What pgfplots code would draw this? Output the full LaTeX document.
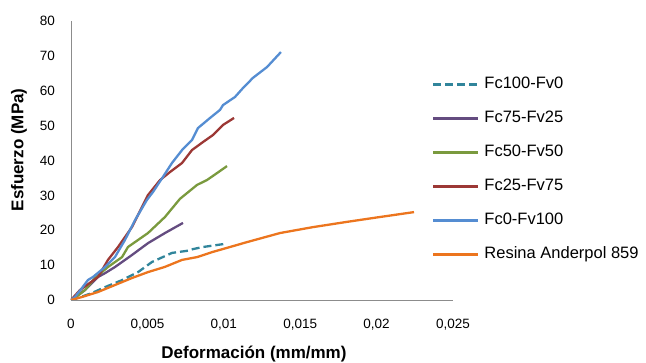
\documentclass[border=0pt]{standalone}
\usepackage{pgfplots}
\pgfplotsset{compat=1.18}
\usepackage{fontspec}
\setmainfont{Liberation Sans}
\definecolor{cteal}{RGB}{49,133,155}
\definecolor{cpurple}{RGB}{100,76,128}
\definecolor{cgreen}{RGB}{122,154,62}
\definecolor{cred}{RGB}{156,56,53}
\definecolor{cblue}{RGB}{85,141,210}
\definecolor{corange}{RGB}{236,117,30}
\definecolor{axisgray}{RGB}{140,140,140}
\begin{document}
\begin{tikzpicture}[x=1pt,y=1pt]
\useasboundingbox (-71,-63) rectangle (575,300);
\begin{axis}[
  at={(0,0)}, anchor=south west,
  scale only axis, width=382pt, height=279pt,
  xmin=0, xmax=0.025, ymin=0, ymax=80,
  axis lines=left,
  axis line style={draw=axisgray, line width=0.8pt, -},
  major tick length=0pt,
  xtick={0,0.005,0.01,0.015,0.02,0.025},
  xticklabels={0,{0,005},{0,01},{0,015},{0,02},{0,025}},
  ytick={0,10,...,80},
  /pgf/number format/assume math mode=true,
  scaled ticks=false,
  xticklabel style={anchor=base, yshift=-29pt, font=\fontsize{13.5}{15}\selectfont},
  yticklabel style={anchor=east, inner sep=0pt, xshift=-16pt, font=\fontsize{13.5}{15}\selectfont},
  xlabel={Deformación (mm/mm)},
  ylabel={Esfuerzo (MPa)},
  xlabel style={at={(axis description cs:0.479,0)}, anchor=base, yshift=-59pt, font=\bfseries\fontsize{17}{20}\selectfont},
  ylabel style={at={(axis description cs:0,0.538)}, anchor=center, yshift=52pt, font=\bfseries\fontsize{17}{20}\selectfont},
  legend cell align=left,
  legend style={draw=none, fill=none, at={(axis description cs:0.945,0.798)}, anchor=north west,
    inner xsep=0pt, inner ysep=0pt, row sep=20pt,
    font=\fontsize{16.5}{19}\selectfont,
    nodes={inner ysep=0pt, inner xsep=5pt, text height=11pt, text depth=3pt}},
  legend image code/.code={\draw[#1] (0pt,0pt) -- (45pt,0pt);},
  every axis plot/.append style={line width=2.3pt, line join=round, no markers},
]
\addplot[cteal, dash pattern=on 8pt off 4pt] coordinates {
(0,0) (0.00026,0.29) (0.00137,2.0) (0.00223,3.7) (0.00334,5.7) (0.00439,8.0) (0.0053,10.9) (0.00661,13.5) (0.00759,14.1) (0.00799,14.6) (0.00864,15.2) (0.01008,16.1)};
\addlegendentry{Fc100-Fv0}
\addplot[cpurple] coordinates {
(0,0) (0.00092,2.87) (0.00177,6.6) (0.00223,7.7) (0.00288,9.46) (0.00399,12.9) (0.00504,16.3) (0.00615,19.2) (0.00733,22.1)};
\addlegendentry{Fc75-Fv25}
\addplot[cgreen] coordinates {
(0,0) (0.00026,0.57) (0.00092,2.87) (0.00157,6.3) (0.00242,9.46) (0.00334,12.3) (0.00373,15.2) (0.00504,19.2) (0.00615,23.8) (0.00713,29.0) (0.00825,33.0) (0.0089,34.4) (0.00956,36.4) (0.01021,38.4)};
\addlegendentry{Fc50-Fv50}
\addplot[cred] coordinates {
(0,0) (0.00059,2.87) (0.00177,6.6) (0.00242,11.5) (0.00308,15.2) (0.00399,20.9) (0.00465,26.7) (0.00504,30.1) (0.00583,34.4) (0.00648,36.7) (0.00727,39.3) (0.00792,43.0) (0.00864,45.3) (0.00929,47.3) (0.00995,50.2) (0.01067,52.2)};
\addlegendentry{Fc25-Fv75}
\addplot[cblue] coordinates {
(0,0) (0.00026,0.86) (0.00072,3.44) (0.00111,5.73) (0.00144,6.6) (0.00223,9.46) (0.00288,12.33) (0.00353,17.2) (0.00419,22.9) (0.00497,28.7) (0.00537,31.0) (0.00602,35.3) (0.00661,39.3) (0.00727,43.0) (0.00792,45.9) (0.00831,49.3) (0.0091,52.2) (0.00975,54.5) (0.00995,55.9) (0.01073,58.2) (0.01126,60.8) (0.01191,63.7) (0.01283,66.8) (0.01374,71.1)};
\addlegendentry{Fc0-Fv100}
\addplot[corange] coordinates {
(0,0) (0.00072,0.86) (0.00177,2.3) (0.00288,4.3) (0.00399,6.3) (0.00504,8.0) (0.00615,9.5) (0.00727,11.5) (0.00825,12.3) (0.00929,13.8) (0.01041,15.2) (0.01152,16.6) (0.01368,19.2) (0.01584,20.9) (0.01806,22.4) (0.02022,23.8) (0.02245,25.2)};
\addlegendentry{Resina Anderpol 859}
\end{axis}
\end{tikzpicture}
\end{document}
